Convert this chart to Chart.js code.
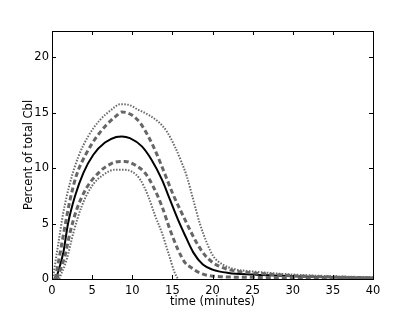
<!DOCTYPE html>
<html>
<head>
<meta charset="utf-8">
<script src="https://cdn.jsdelivr.net/npm/chart.js@4"></script>
<style>
  html, body { margin: 0; padding: 0; background: #fff; }
  canvas { display: block; }
</style>
</head>
<body>
<canvas id="cblChart" width="415" height="312"></canvas>
<script>
// values (time in minutes, percent of total Cbl)
const xTicks = [0, 5, 10, 15, 20, 25, 30, 35, 40];
const yTicks = [0, 5, 10, 15, 20];

const meanTime = [0.5, 1.4, 2.0, 2.86, 3.9, 5.15, 6.6, 8.0, 8.7, 9.7, 11.2, 12.4, 13.7, 14.7, 15.7, 16.6, 17.6, 18.8, 20, 22, 25, 30, 35, 40];
const meanPct  = [0, 2.34, 5.0, 7.45, 9.55, 11.2, 12.3, 12.8, 12.85, 12.7, 11.95, 10.75, 8.95, 7.15, 5.35, 3.9, 2.4, 1.3, 0.85, 0.55, 0.4, 0.25, 0.15, 0.1];

const upDashTime = [0.4, 1.0, 1.6, 2.24, 3.07, 4.3, 5.6, 6.8, 8.0, 8.7, 9.9, 11.0, 12.0, 13.0, 14.1, 15.1, 16.0, 17.0, 18.0, 19.0, 20, 21, 22, 23, 25, 30, 35, 40];
const upDashPct  = [0, 2.3, 4.7, 7.1, 9.4, 11.35, 12.85, 13.9, 14.7, 15.05, 14.8, 14.05, 12.85, 11.35, 9.4, 7.6, 6.2, 4.7, 3.3, 2.2, 1.5, 1.1, 0.85, 0.7, 0.55, 0.3, 0.18, 0.1];

const upDotTime = [0.1, 0.8, 1.4, 2.24, 3.3, 4.5, 6.0, 7.4, 8.5, 9.5, 10.75, 12.0, 13.2, 14.3, 15.3, 16.1, 16.8, 17.6, 18.4, 19.3, 20.1, 21.3, 23.0, 24.7, 30, 35, 40];
const upDotPct  = [0, 3.25, 5.95, 8.65, 11.05, 12.85, 14.35, 15.25, 15.75, 15.7, 15.25, 14.8, 14.2, 13.3, 11.95, 10.6, 9.25, 7.15, 5.05, 3.25, 2.05, 1.3, 0.85, 0.7, 0.4, 0.25, 0.15];

const loDashTime = [0.6, 1.6, 2.24, 3.07, 4.3, 6.0, 7.4, 8.5, 9.1, 10.3, 11.6, 12.6, 13.7, 14.7, 15.7, 16.6, 17.2, 18.4, 20.1, 25, 30, 40];
const loDashPct  = [0, 2.05, 4.15, 6.25, 8.2, 9.7, 10.4, 10.6, 10.6, 10.3, 9.55, 8.35, 6.55, 4.45, 2.65, 1.45, 1.1, 0.55, 0.25, 0.15, 0.12, 0.08];

const loDotTime = [0.9, 1.83, 2.66, 3.7, 4.95, 6.4, 7.85, 8.7, 9.9, 11.0, 12.0, 12.8, 13.7, 14.5, 15.3, 15.7];
const loDotPct  = [0, 1.75, 4.15, 6.55, 8.35, 9.4, 9.85, 9.85, 9.7, 8.95, 7.45, 5.8, 4.15, 2.35, 0.55, 0];

function pts(t, v) {
  return t.map((x, i) => ({ x: x, y: v[i] }));
}

const font = { family: 'DejaVu Sans', size: 11.5 };

// matplotlib style box with inward ticks on all four sides
const boxTicks = {
  id: 'boxTicks',
  afterDraw(chart) {
    const ctx = chart.ctx;
    const a = chart.chartArea;
    const xs = chart.scales.x, ys = chart.scales.y;
    ctx.save();
    ctx.strokeStyle = '#000';
    ctx.lineWidth = 1;
    ctx.strokeRect(Math.round(a.left) + 0.5, Math.round(a.top) + 0.5,
      Math.round(a.right - a.left), Math.round(a.bottom - a.top));
    ctx.beginPath();
    xTicks.forEach(v => {
      const px = Math.round(xs.getPixelForValue(v)) + 0.5;
      ctx.moveTo(px, a.bottom); ctx.lineTo(px, a.bottom - 4);
      ctx.moveTo(px, a.top); ctx.lineTo(px, a.top + 4);
    });
    yTicks.forEach(v => {
      const py = Math.round(ys.getPixelForValue(v)) + 0.5;
      ctx.moveTo(a.left, py); ctx.lineTo(a.left + 4, py);
      ctx.moveTo(a.right, py); ctx.lineTo(a.right - 4, py);
    });
    ctx.stroke();
    ctx.restore();
  }
};

new Chart(document.getElementById('cblChart'), {
  type: 'line',
  data: {
    datasets: [
      {
        label: 'upper dotted',
        data: pts(upDotTime, upDotPct),
        borderColor: '#6a6a6a',
        borderWidth: 2,
        borderDash: [1.5, 1.5],
      },
      {
        label: 'lower dotted',
        data: pts(loDotTime, loDotPct),
        borderColor: '#6a6a6a',
        borderWidth: 2,
        borderDash: [1.5, 1.5],
      },
      {
        label: 'upper dashed',
        data: pts(upDashTime, upDashPct),
        borderColor: '#666666',
        borderWidth: 3,
        borderDash: [5, 3],
      },
      {
        label: 'lower dashed',
        data: pts(loDashTime, loDashPct),
        borderColor: '#666666',
        borderWidth: 3,
        borderDash: [5, 3],
      },
      {
        label: 'mean',
        data: pts(meanTime, meanPct),
        borderColor: '#000000',
        borderWidth: 2,
      }
    ]
  },
  options: {
    responsive: false,
    animation: false,
    events: [],
    elements: {
      point: { radius: 0 },
      line: { fill: false, cubicInterpolationMode: 'monotone' }
    },
    layout: {
      padding: { left: 22, right: 42, top: 31, bottom: 3 }
    },
    plugins: {
      legend: { display: false },
      tooltip: { enabled: false }
    },
    scales: {
      x: {
        type: 'linear',
        min: 0,
        max: 40,
        afterBuildTicks: s => { s.ticks = xTicks.map(v => ({ value: v })); },
        afterFit: s => { s.height = 30; },
        grid: { display: false, drawTicks: false },
        border: { display: false },
        ticks: { color: '#000', font: font, padding: 5, maxRotation: 0 },
        title: {
          display: true,
          text: 'time (minutes)',
          color: '#000',
          font: font,
          padding: { top: 0, bottom: 0 }
        }
      },
      y: {
        type: 'linear',
        min: 0,
        max: 22.35,
        afterBuildTicks: s => { s.ticks = yTicks.map(v => ({ value: v })); },
        afterFit: s => { s.width = 30; },
        grid: { display: false, drawTicks: false },
        border: { display: false },
        ticks: { color: '#000', font: font, padding: 3 },
        title: {
          display: true,
          text: 'Percent of total Cbl',
          color: '#000',
          font: font,
          padding: { top: 0, bottom: 0 }
        }
      }
    }
  },
  plugins: [boxTicks]
});
</script>
</body>
</html>
